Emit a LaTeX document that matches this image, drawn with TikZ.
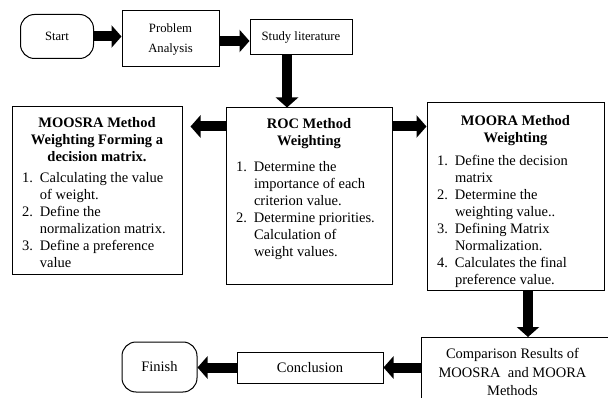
\documentclass[tikz,border=0pt]{standalone}
\usepackage{fontspec}
\setmainfont{Liberation Serif}
\usetikzlibrary{arrows.meta}
\newcommand\stepitem[2]{\par\hangindent=18pt\hangafter=1\noindent\makebox[18pt][l]{#1}#2}
\newcommand\boxcontent[4]{\parbox[c][#2][t]{#1}{\fontsize{14.5}{17}\selectfont\raggedright\vspace*{#3}#4}}
\tikzset{
  box/.style={draw, line width=1pt, inner sep=0pt},
  term/.style={draw, line width=1pt, rounded corners=14pt, inner sep=0pt, align=center},
  bigarrow/.style={line width=10pt, -{Triangle[width=22pt,length=10pt]}},
  toptext/.style={font=\fontsize{12.7}{20}\selectfont, align=center},
  bottext/.style={font=\fontsize{14.5}{19}\selectfont, align=center},
}
\begin{document}
\begin{tikzpicture}[x=1pt,y=-1pt]
\useasboundingbox[fill=white] (0,0) rectangle (608,398);
% top row
\node[term, toptext, minimum width=73pt, minimum height=44pt] (start) at (57,36.5) {Start};
\node[box, toptext, minimum width=97pt, minimum height=56pt] (prob) at (170.5,39) {Problem\\Analysis};
\node[box, toptext, minimum width=102pt, minimum height=35pt] (study) at (301,37.5) {Study literature};
% middle row
\node[box] (moosra) at (97,191) {\boxcontent{170pt}{168pt}{10pt}{%
  {\centering\bfseries MOOSRA Method\\Weighting Forming a\\decision matrix.\par}
  \vspace{4pt}
  {\leftskip=10pt
  \stepitem{1.}{Calculating the value\newline of weight.}
  \stepitem{2.}{Define the\newline normalization matrix.}
  \stepitem{3.}{Define a preference\newline value}\par}}};
\node[box] (roc) at (309,196.5) {\boxcontent{166pt}{177pt}{10pt}{%
  {\centering\bfseries ROC Method\\Weighting\par}
  \vspace{9pt}
  {\leftskip=10pt
  \stepitem{1.}{Determine the\newline importance of each\newline criterion value.}
  \stepitem{2.}{Determine priorities.\newline Calculation of\newline weight values.}\par}}};
\node[box] (moora) at (515.5,196.5) {\boxcontent{177pt}{187pt}{12pt}{%
  {\centering\bfseries MOORA Method\\Weighting\par}
  \vspace{6pt}
  {\leftskip=10pt
  \stepitem{1.}{Define the decision\newline matrix}
  \stepitem{2.}{Determine the\newline weighting value..}
  \stepitem{3.}{Defining Matrix\newline Normalization.}
  \stepitem{4.}{Calculates the final\newline preference value.}\par}}};
% bottom row
\node[box, anchor=north west] (comp) at (421,337) {\parbox[c][75pt][t]{200pt}{\fontsize{14.5}{18.5}\selectfont\vspace*{11pt}\centering\rightskip=18pt plus 1fil Comparison Results of\\MOOSRA\ \ and MOORA\\Methods\par}};
\node[box, bottext, minimum width=146pt, minimum height=31pt] (conc) at (310,367.5) {Conclusion};
\node[term, bottext, minimum width=75pt, minimum height=50pt] (finish) at (159.5,367) {Finish};
% arrows
\draw[bigarrow] (start.east) -- (start.east -| prob.west);
\draw[bigarrow] ([yshift=-2pt]prob.east) -- ([yshift=-2pt]prob.east -| study.west);
\draw[bigarrow] ([xshift=-14pt]study.south) -- ([xshift=-14pt]study.south |- roc.north);
\draw[bigarrow, shorten >=8pt] ([yshift=-19pt]roc.north west) -- ([yshift=-19pt]roc.north west -| moosra.east);
\draw[bigarrow] ([yshift=-19pt]roc.north east) -- ([yshift=-19pt]roc.north east -| moora.west);
\draw[bigarrow] ([xshift=12.5pt]moora.south) -- ([xshift=12.5pt]moora.south |- comp.north);
\draw[bigarrow] (conc.east -| comp.west) -- (conc.east);
\draw[bigarrow] (conc.west) -- (conc.west -| finish.east);
\end{tikzpicture}
\end{document}
